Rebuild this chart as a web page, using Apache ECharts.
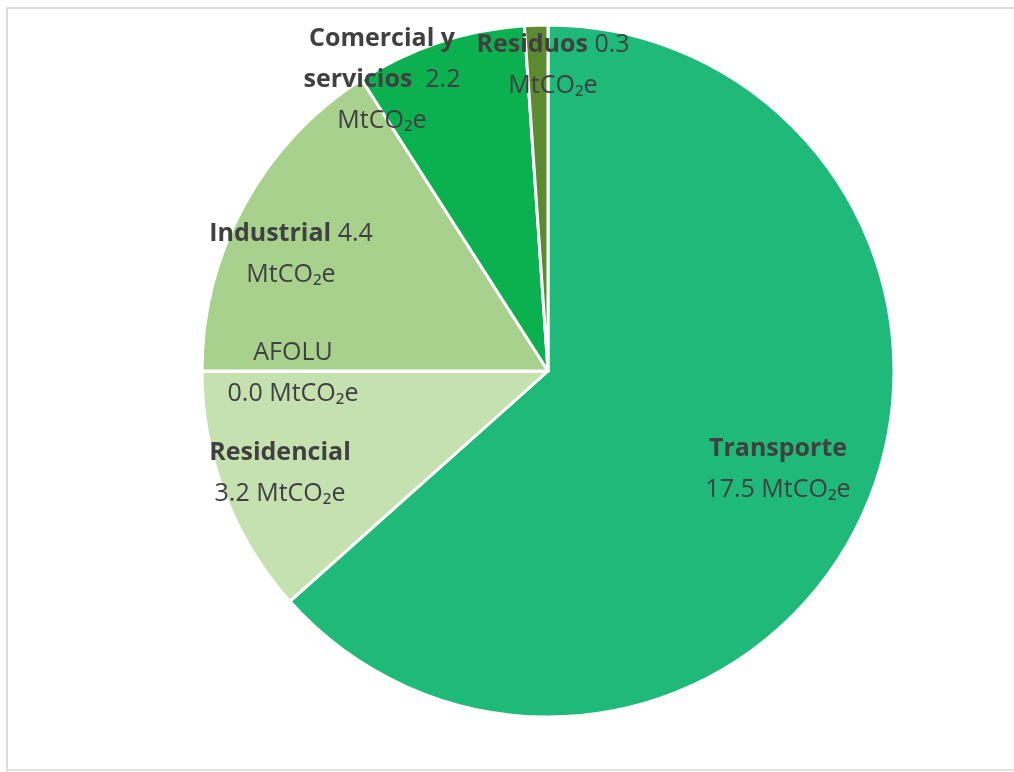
<!DOCTYPE html>
<html>
<head>
<meta charset="utf-8">
<script src="https://cdn.jsdelivr.net/npm/echarts@6/dist/echarts.min.js"></script>
<style>
  html, body { margin: 0; padding: 0; background: #fff; }
  #chart { width: 1014px; height: 772px; }
</style>
</head>
<body>
<div id="chart"></div>
<script>
// sectors, clockwise from 12 o'clock
const sectors = ["Transporte", "Residencial", "AFOLU", "Industrial", "Comercial y servicios", "Residuos"];
const emissions = [17.5, 3.2, 0.0, 4.4, 2.2, 0.3];
const colors = ["#1fb97a", "#c5e1b0", "#b3d89a", "#a9d18e", "#0cb14f", "#5b8a31"];

// label text per sector ({b} bold part, {n} normal part)
const labelText = [
  "{b|Transporte}\n{n|17.5 MtCO₂e}",
  "{b|Residencial}\n{n|3.2 MtCO₂e}",
  "{n|AFOLU}\n{n|0.0 MtCO₂e}",
  "{b|Industrial}{n| 4.4}\n{n|MtCO₂e}",
  "{b|Comercial y}\n{b|servicios}{n|  2.2}\n{n|MtCO₂e}",
  "{b|Residuos}{n| 0.3}\n{n|MtCO₂e}"
];
// label centres
const labelPos = [[778, 469], [280, 473], [293, 373], [291, 254], [382, 80], [553, 65]];

const chart = echarts.init(document.getElementById("chart"));

const option = {
  animation: false,
  color: colors,
  graphic: [
    { type: "rect", shape: { x: 6, y: 7, width: 1008, height: 2 }, style: { fill: "#dcdcdc" } },
    { type: "rect", shape: { x: 6, y: 7, width: 2, height: 765 }, style: { fill: "#dcdcdc" } },
    { type: "rect", shape: { x: 6, y: 769, width: 1008, height: 2 }, style: { fill: "#e4e4e4" } }
  ],
  series: [
    {
      type: "pie",
      center: [548, 371],
      radius: 346,
      startAngle: 90,
      clockwise: true,
      avoidLabelOverlap: false,
      itemStyle: { borderColor: "#ffffff", borderWidth: 3 },
      label: {
        show: true,
        position: "inside",
        formatter: p => labelText[p.dataIndex],
        align: "center",
        lineHeight: 41,
        rich: {
          b: { fontFamily: "Open Sans", fontWeight: "bold", fontSize: 25, color: "#404040", lineHeight: 41 },
          n: { fontFamily: "Open Sans", fontSize: 25, color: "#404040", lineHeight: 41 }
        }
      },
      labelLine: { show: false },
      labelLayout: p => ({
        x: labelPos[p.dataIndex][0],
        y: labelPos[p.dataIndex][1],
        align: "center",
        verticalAlign: "middle"
      }),
      data: sectors.map((s, i) => ({ name: s, value: emissions[i] }))
    }
  ]
};

chart.setOption(option);
</script>
</body>
</html>
